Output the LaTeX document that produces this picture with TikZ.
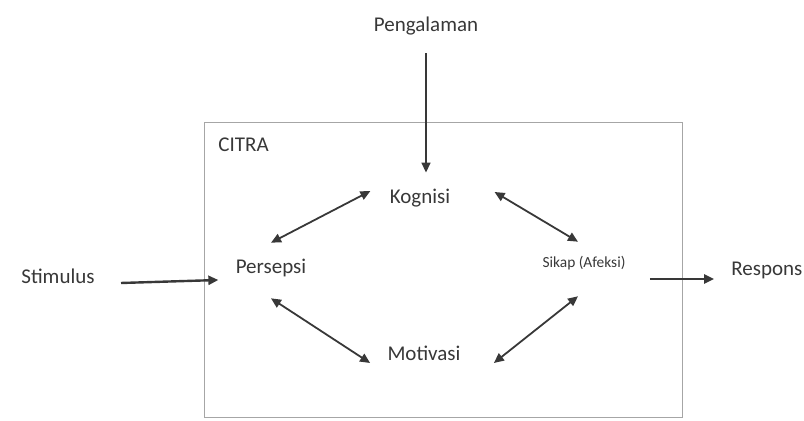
\documentclass[tikz,border=0pt]{standalone}
\usepackage{fontspec}
\setmainfont{Carlito}
\usetikzlibrary{arrows.meta}
\definecolor{ink}{gray}{0.22}
\tikzset{
  flow/.style={-{Triangle[length=5pt,width=4.5pt]},line width=1pt,draw=ink},
  dbl/.style={{Triangle[length=5pt,width=4.5pt]}-{Triangle[length=5pt,width=4.5pt]},line width=0.9pt,draw=ink},
  frame/.style={draw=gray!70,line width=0.5pt},
  lbl/.style={inner sep=0pt,text=ink,font=\fontsize{10.5}{12}\selectfont},
  small/.style={inner sep=0pt,text=ink,font=\fontsize{7.7}{9}\selectfont}
}
\begin{document}
\begin{tikzpicture}[x=0.5pt,y=-0.5pt]
    \useasboundingbox (0,0) rectangle (804,421);
    \draw[frame] (204,123) rectangle (682,418);
    \node[lbl,anchor=west] (citra) at (218,145) {CITRA};
    % labels
    \node[lbl] (peng) at (426,26) {Pengalaman};
    \node[lbl] (kog) at (420,198) {Kognisi};
    \node[lbl] (per) at (271,268) {Persepsi};
    \node[small] (sik) at (584,263) {Sikap (Afeksi)};
    \node[lbl] (mot) at (424,353) {Motivasi};
    \node[lbl] (stim) at (58,276) {Stimulus};
    \node[lbl,anchor=west] (res) at (731,270) {Respons};
    % arrows in and out
    \draw[flow,line width=0.8pt] ([yshift=-9pt]peng.south) -- ([yshift=8pt]peng.south |- kog.north);
    \draw[flow,line width=1.2pt] ([xshift=13pt,yshift=-3.5pt]stim.east) -- ([xshift=-8.5pt,yshift=-6pt]per.west);
    \draw[flow,line width=1.2pt] ([xshift=12pt,yshift=-8pt]sik.east) -- ([xshift=-8.5pt,yshift=-4.5pt]res.west);
    % relations inside the image
    \draw[dbl] ([yshift=8pt]per.north) -- ([xshift=-9.5pt,yshift=3.5pt]kog.west);
    \draw[dbl] ([xshift=22pt,yshift=3pt]kog.east) -- ([xshift=-3pt,yshift=7pt]sik.north);
    \draw[dbl] ([yshift=-10.5pt]per.south) -- ([xshift=-8.5pt,yshift=-5pt]mot.west);
    \draw[dbl] ([xshift=16.5pt,yshift=-5pt]mot.east) -- ([xshift=-3pt,yshift=-13pt]sik.south);
  \end{tikzpicture}
\end{document}
